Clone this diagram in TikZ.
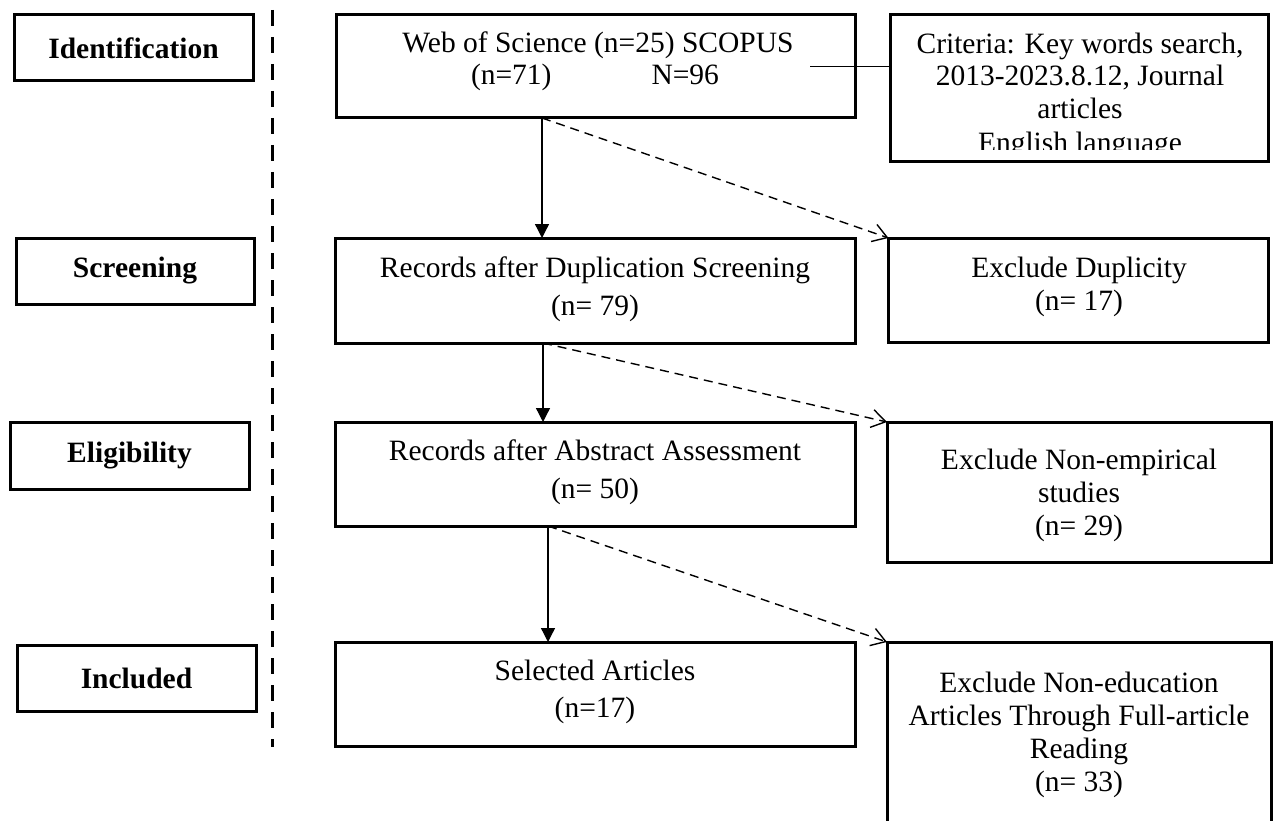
\documentclass[tikz,border=0pt]{standalone}
\usepackage{fontspec}
\setmainfont{Liberation Serif}
\usetikzlibrary{arrows.meta,backgrounds}
\newcommand{\boxshadow}[1]{%
  \foreach \r in {1,...,6}{%
    \fill[black,opacity=0.06] ([shift={(4-\r,4-\r)}]#1.north west) rectangle ([shift={(4+\r,4+\r)}]#1.south east);
  }}
\begin{document}
\begin{tikzpicture}[x=1pt,y=-1pt,
  box/.style={draw,line width=3pt,fill=white,inner sep=0pt,outer sep=0pt,rectangle},
  lbl/.style={font=\fontsize{29.5pt}{33pt}\selectfont\bfseries},
  txt/.style={font=\fontsize{29.5pt}{33pt}\selectfont,inner sep=0pt,anchor=base},
  flow/.style={line width=1.3pt,-{Triangle[length=14pt,width=14pt]}},
  excl/.style={line width=1.4pt,dash pattern=on 9pt off 6pt,-{Straight Barb[length=14pt,width=18pt,line width=1.4pt]}},
  sepline/.style={line width=3pt,dash pattern=on 16pt off 11pt},
  link/.style={line width=1.3pt}
]
\useasboundingbox (0,0) rectangle (1276,821);
\fill[white] (0,0) rectangle (1276,821);

% stage labels
\node[box,lbl,minimum width=239pt,minimum height=66pt] (lid) at (133.5,48) {Identification};
\node[box,lbl,minimum width=238pt,minimum height=66pt] (lsc) at (135,271) {Screening};
\node[box,lbl,minimum width=239pt,minimum height=67pt] (lel) at (129.5,455.5) {Eligibility};
\node[box,lbl,minimum width=239pt,minimum height=66pt] (lin) at (136.5,678) {Included};

% separator
\draw[sepline] (272,10) -- (272,747);

% main boxes
\node[box,minimum width=519pt,minimum height=103pt] (b1) at (595.5,66.5) {};
\node[box,minimum width=520pt,minimum height=105pt] (b2) at (595,290.5) {};
\node[box,minimum width=520pt,minimum height=104pt] (b3) at (595,474) {};
\node[box,minimum width=520pt,minimum height=104pt] (b4) at (595,694) {};

% right boxes
\node[box,minimum width=378pt,minimum height=147pt] (crit) at (1079,88.5) {};
\node[box,minimum width=380pt,minimum height=104pt] (e1) at (1078.5,290) {};
\node[box,minimum width=384pt,minimum height=140pt] (e2) at (1079,492) {};
\node[box,minimum width=384pt,minimum height=200pt] (e3) at (1079,742) {};

\begin{scope}[on background layer]
  \boxshadow{lid}\boxshadow{lsc}\boxshadow{lel}\boxshadow{lin}
  \boxshadow{b1}\boxshadow{b2}\boxshadow{b3}\boxshadow{b4}
  \boxshadow{crit}\boxshadow{e1}\boxshadow{e2}\boxshadow{e3}
\end{scope}

% texts of main boxes
\node[txt] (b1a) at (598,53) {Web of Science (n=25) SCOPUS};
\node[txt] (b1b) at (595,85) {(n=71)\hspace{100pt}N=96};
\node[txt] (b2a) at (595,277) {Records after Duplication Screening};
\node[txt] (b2b) at (595,315) {(n= 79)};
\node[txt] (b3a) at (595,460) {Records after Abstract Assessment};
\node[txt] (b3b) at (595,498) {(n= 50)};
\node[txt] (b4a) at (595,680) {Selected Articles};
\node[txt] (b4b) at (595,717) {(n=17)};

% texts of the criteria box (last line cut by its text frame)
\begin{scope}
  \clip (crit.north west) rectangle ([yshift=12pt]crit.south east);
  \node[txt] (c1) at (1080,54) {Criteria: Key words search,};
  \node[txt] (c2) at (1080,86) {2013-2023.8.12, Journal};
  \node[txt] (c3) at (1080,119) {articles};
  \node[txt] (c4) at (1080,153) {English language};
\end{scope}

\node[txt] (e1a) at (1079,277) {Exclude Duplicity};
\node[txt] (e1b) at (1079,310) {(n= 17)};
\node[txt] (e2a) at (1079,469) {Exclude Non-empirical};
\node[txt] (e2b) at (1079,502) {studies};
\node[txt] (e2c) at (1079,535) {(n= 29)};
\node[txt] (e3a) at (1079,692) {Exclude Non-education};
\node[txt] (e3b) at (1079,725) {Articles Through Full-article};
\node[txt] (e3c) at (1079,758) {Reading};
\node[txt] (e3d) at (1079,791) {(n= 33)};

% connectors
\draw[link] ([xshift=-45pt]b1.east) -- (b1.east -| crit.west);
\draw[flow] ([xshift=206pt]b1.south west) -- ([xshift=207pt]b2.north west);
\draw[excl] ([xshift=206pt]b1.south west) -- (e1.north west);
\draw[flow] ([xshift=208pt]b2.south west) -- ([xshift=208pt]b3.north west);
\draw[excl] ([xshift=208pt]b2.south west) -- (e2.north west);
\draw[flow] ([xshift=213pt]b3.south west) -- ([xshift=213pt]b4.north west);
\draw[excl] ([xshift=213pt]b3.south west) -- (e3.north west);
\end{tikzpicture}
\end{document}
